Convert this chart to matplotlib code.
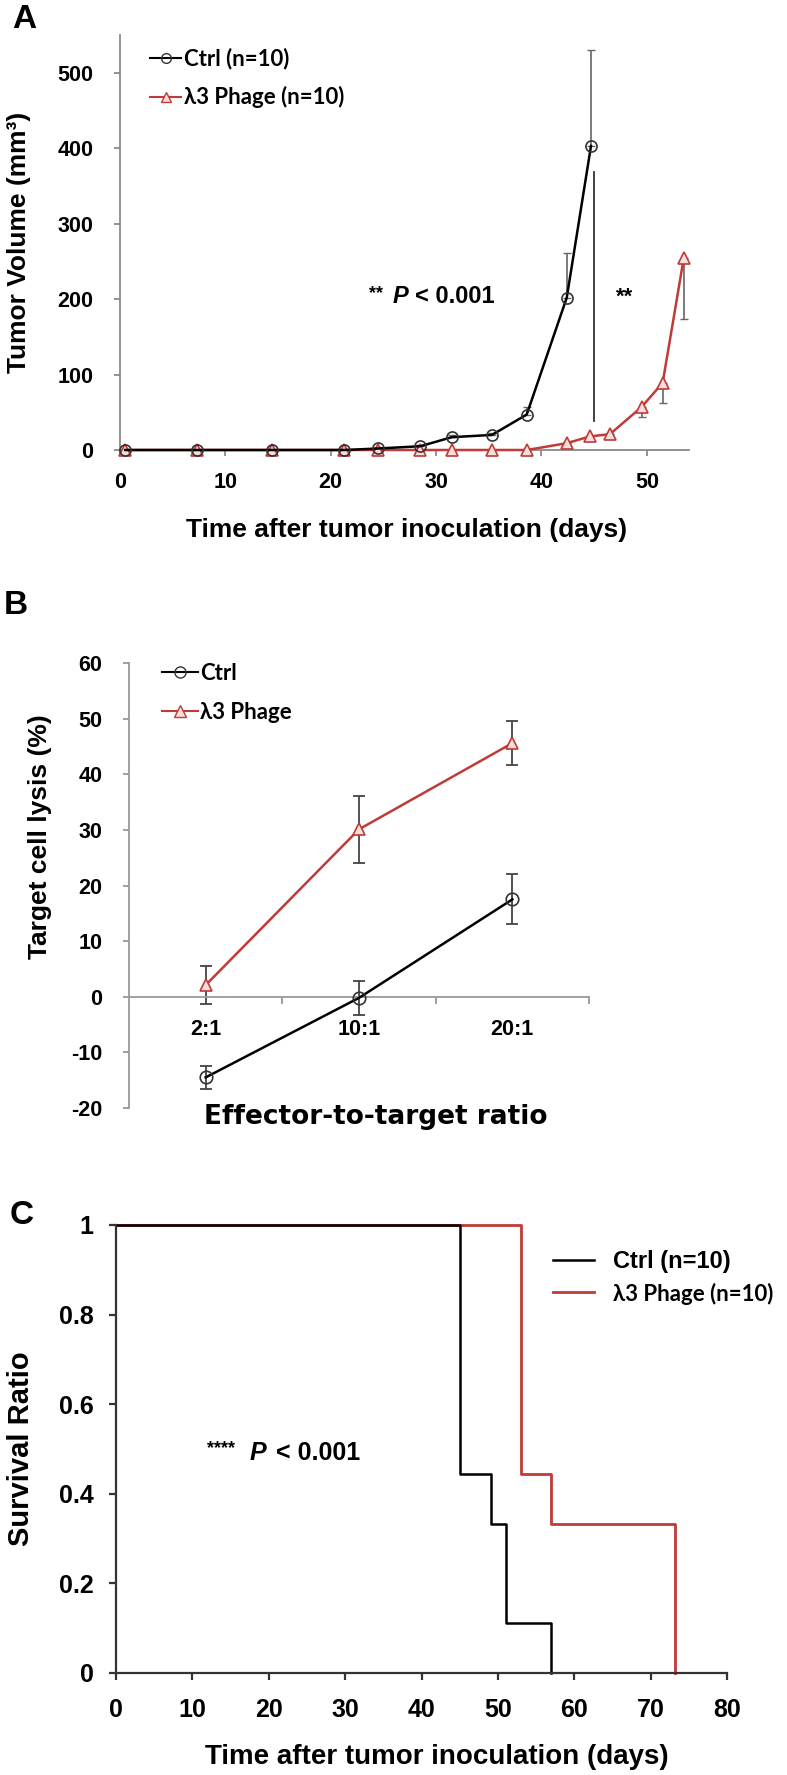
import matplotlib
matplotlib.use('Agg')
from matplotlib import pyplot as plt
from matplotlib.lines import Line2D

plt.rcParams['font.family'] = ['Liberation Sans', 'DejaVu Sans']
plt.rcParams['font.weight'] = 'bold'
plt.rcParams['axes.labelweight'] = 'bold'
plt.rcParams['axes.unicode_minus'] = False

RED = '#c03a36'
W, H = 787, 1775

# panel A - tumor volume
a_ctrl_days = [0.5, 7.3, 14.4, 21.3, 24.5, 28.5, 31.5, 35.3, 38.6, 42.4, 44.7]
a_ctrl_vol = [0, 0, 0, 0, 2, 5, 17, 20, 47, 202, 403]
a_ctrl_err = [0, 0, 0, 0, 1, 2, 3, 3, 10, 59, 127]
a_phage_days = [0.5, 7.3, 14.4, 21.3, 24.5, 28.5, 31.5, 35.3, 38.6, 42.4, 44.6, 46.5, 49.5, 51.5, 53.5]
a_phage_vol = [0, 0, 0, 0, 0, 0, 0, 0, 0, 9, 18, 21, 57, 89, 254]
a_phage_err = [0, 0, 0, 0, 0, 0, 0, 0, 0, 3, 4, 4, 13, 27, 81]

# panel B - cytotoxicity
b_ratios = ['2:1', '10:1', '20:1']
b_ctrl = [-14.5, -0.2, 17.5]
b_ctrl_err = [2.0, 3.1, 4.5]
b_phage = [2.1, 30.1, 45.6]
b_phage_err = [3.4, 6.0, 3.9]

# panel C - survival
c_ctrl_days = [0, 45.0, 49.1, 51.1, 57.0]
c_ctrl_surv = [1, 0.444, 0.333, 0.111, 0]
c_phage_days = [0, 53.0, 57.0, 73.2]
c_phage_surv = [1, 0.444, 0.333, 0]


def rect(left, top, right, bottom):
    return [left / W, 1 - bottom / H, (right - left) / W, (bottom - top) / H]


def style_axes(ax, color, lw, size, pad, length=4):
    for s in ['top', 'right']:
        ax.spines[s].set_visible(False)
    for s in ['left', 'bottom']:
        ax.spines[s].set_color(color)
        ax.spines[s].set_linewidth(lw)
    ax.tick_params(direction='out', color=color, width=lw, length=length,
                   labelsize=size, pad=pad)


fig = plt.figure(figsize=(W / 100, H / 100), dpi=100)

# ---------------- A ----------------
ax = fig.add_axes(rect(120, 35, 689, 450))
ax.errorbar(a_ctrl_days, a_ctrl_vol, yerr=[[0] * len(a_ctrl_err), a_ctrl_err],
            fmt='none', ecolor='#666666', elinewidth=1.2, capsize=3, clip_on=False)
ax.errorbar(a_phage_days, a_phage_vol, yerr=[a_phage_err, [0] * len(a_phage_err)],
            fmt='none', ecolor='#666666', elinewidth=1.2, capsize=3, clip_on=False)
ax.plot(a_phage_days, a_phage_vol, '-^', color=RED, lw=1.8, ms=8, mfc='#f6dede',
        mec=RED, mew=1.2, clip_on=False, zorder=3)
ax.plot(a_ctrl_days, a_ctrl_vol, '-o', color='black', lw=1.8, ms=8, mfc='none',
        mec='#333333', mew=1.2, clip_on=False, zorder=4)
ax.plot([45, 45], [38, 369], color='#333333', lw=1.3)
ax.text(47.1, 203, '**', fontsize=16, ha='left', va='center')
ax.text(23.6, 207, '**', fontsize=13, ha='left', va='center')
ax.text(25.9, 203, 'P', fontsize=17, style='italic', ha='left', va='center')
ax.text(28.0, 203, '< 0.001', fontsize=17, ha='left', va='center')
ax.set_xlim(0, 54)
ax.set_ylim(0, 550)
ax.set_xticks(range(0, 51, 10))
ax.set_yticks(range(0, 501, 100))
style_axes(ax, '#8a8a8a', 1.3, 15.5, 12)
ax.tick_params(axis='y', pad=15)
ax.set_ylabel('Tumor Volume (mm³)', fontsize=19)
ax.yaxis.label.set_va('center')
ax.yaxis.set_label_coords((19 - 120) / 569, 0.5)
ax.set_xlabel('Time after tumor inoculation (days)', fontsize=19)
ax.xaxis.label.set_va('center')
ax.xaxis.set_label_coords((407 - 120) / 569, (450 - 530) / 415)
h_ctrl = Line2D([], [], color='black', marker='o', ms=7, mfc='none', mec='#333333', lw=1.5)
h_phage = Line2D([], [], color=RED, marker='^', ms=7, mfc='#f6dede', mec=RED, lw=1.5)
ax.legend([h_ctrl, h_phage], ['Ctrl (n=10)', 'λ3 Phage (n=10)'], loc='upper left',
          bbox_to_anchor=((150 - 120) / 569, (450 - 48) / 415), frameon=False,
          borderpad=0, borderaxespad=0, handlelength=1.4, handletextpad=0.15,
          labelspacing=0.75, prop={'family': ['Lato', 'DejaVu Sans'], 'weight': 'bold', 'size': 16})

# ---------------- B ----------------
ax = fig.add_axes(rect(129, 663, 589, 1108))
xb = [0.5, 1.5, 2.5]
ax.errorbar(xb, b_phage, yerr=b_phage_err, fmt='none', ecolor='#444444',
            elinewidth=1.3, capsize=4, capthick=1.3)
ax.errorbar(xb, b_ctrl, yerr=b_ctrl_err, fmt='none', ecolor='#444444',
            elinewidth=1.3, capsize=4, capthick=1.3)
ax.plot(xb, b_phage, '-^', color=RED, lw=1.8, ms=9, mfc='#f6dede', mec=RED, mew=1.2, zorder=3)
ax.plot(xb, b_ctrl, '-o', color='black', lw=1.8, ms=9, mfc='none', mec='#333333', mew=1.2, zorder=3)
ax.set_xlim(0, 3)
ax.set_ylim(-20, 60)
ax.set_yticks(range(-20, 61, 10))
ax.spines['bottom'].set_position(('data', 0))
style_axes(ax, '#999999', 1.3, 15.5, 15)
ax.set_xticks(xb)
ax.set_xticklabels(b_ratios)
ax.set_xticks([1, 2, 3], minor=True)
ax.tick_params(axis='x', which='major', length=0, pad=16)
ax.tick_params(axis='x', which='minor', length=5, width=1.3, color='#999999', direction='out')
ax.set_ylabel('Target cell lysis (%)', fontsize=19)
ax.yaxis.label.set_va('center')
ax.yaxis.set_label_coords((40 - 129) / 460, (1108 - 837) / 445)
ax.text((376 - 129) / 460, (1108 - 1117) / 445, 'Effector-to-target ratio',
        transform=ax.transAxes, ha='center', va='center', fontsize=19,
        family=['DejaVu Sans'], fontweight='bold')
h_ctrl = Line2D([], [], color='black', marker='o', ms=8, mfc='none', mec='#333333', lw=1.5)
h_phage = Line2D([], [], color=RED, marker='^', ms=8, mfc='#f6dede', mec=RED, lw=1.5)
ax.legend([h_ctrl, h_phage], ['Ctrl', 'λ3 Phage'], loc='upper left',
          bbox_to_anchor=((162 - 129) / 460, 1.0), frameon=False,
          borderpad=0, borderaxespad=0, handlelength=1.6, handletextpad=0.1,
          labelspacing=0.8, prop={'family': ['Lato', 'DejaVu Sans'], 'weight': 'bold', 'size': 16})

# ---------------- C ----------------
ax = fig.add_axes(rect(116, 1225, 727, 1673))
ax.step(c_phage_days, c_phage_surv, where='post', color=RED, lw=2.0, clip_on=False)
ax.step(c_ctrl_days, c_ctrl_surv, where='post', color='black', lw=1.8, clip_on=False)
ax.set_xlim(0, 80)
ax.set_ylim(0, 1)
ax.set_xticks(range(0, 81, 10))
ax.set_yticks([0, 0.2, 0.4, 0.6, 0.8, 1])
ax.set_yticklabels(['0', '0.2', '0.4', '0.6', '0.8', '1'])
style_axes(ax, '#333333', 1.6, 18, 11, length=5)
ax.tick_params(axis='x', pad=13)
ax.text(11.9, 0.5, '****', fontsize=13, ha='left', va='center')
ax.text(17.5, 0.49, 'P', fontsize=18, style='italic', ha='left', va='center')
ax.text(20.9, 0.49, '< 0.001', fontsize=18, ha='left', va='center')
ax.set_ylabel('Survival Ratio', fontsize=21,
              family=['Liberation Sans Narrow', 'Liberation Sans'])
ax.yaxis.label.set_va('center')
ax.yaxis.set_label_coords((21 - 116) / 611, 0.5)
ax.set_xlabel('Time after tumor inoculation (days)', fontsize=20)
ax.xaxis.label.set_va('center')
ax.xaxis.set_label_coords((437 - 116) / 611, (1673 - 1757) / 448)
h_ctrl = Line2D([], [], color='black', lw=1.8)
h_phage = Line2D([], [], color=RED, lw=2.0)
leg = ax.legend([h_ctrl, h_phage], ['Ctrl (n=10)', 'λ3 Phage (n=10)'], loc='upper left',
                bbox_to_anchor=((553 - 116) / 611, (1673 - 1250) / 448), frameon=False,
                borderpad=0, borderaxespad=0, handlelength=1.75, handletextpad=0.8,
                labelspacing=0.4, prop={'weight': 'bold', 'size': 17})
leg.get_texts()[1].set_family(['Lato', 'DejaVu Sans'])
leg.get_texts()[1].set_fontsize(16)

# panel letters
fig.text(24 / W, 1 - 19 / H, 'A', fontsize=24, ha='center', va='center')
fig.text(16 / W, 1 - 605 / H, 'B', fontsize=24, ha='center', va='center')
fig.text(22 / W, 1 - 1216 / H, 'C', fontsize=24, ha='center', va='center')

fig.savefig('out.png', dpi=100)
